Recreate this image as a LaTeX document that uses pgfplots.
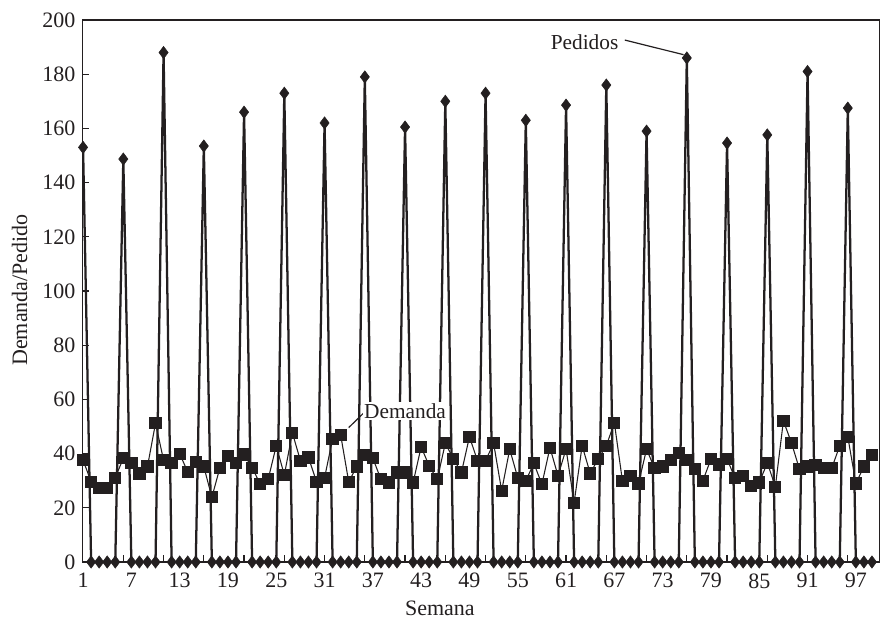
\documentclass[border=0pt]{standalone}
\usepackage{pgfplots}
\pgfplotsset{compat=1.18}
\usepackage{fontspec}
\setmainfont{Liberation Serif}
\definecolor{ink}{RGB}{35,31,32}
\begin{document}
\begin{tikzpicture}
\fontsize{16}{19}\selectfont
\begin{axis}[
  scale only axis,
  width=598pt, height=406.5pt,
  xmin=0.95, xmax=100, ymin=0, ymax=200,
  clip=false,
  axis line style={ink, line width=0.9pt},
  tick align=inside,
  xtick pos=bottom, ytick pos=left,
  xtick={6,11,...,96}, xticklabels={},
  extra x ticks={1,7,13,19,25,31,37,43,49,55,61,67,73,79,85,91,97},
  extra x tick style={major tick length=0pt},
  ytick={0,20,...,200},
  major tick length=5pt,
  tick style={ink, line width=0.9pt},
  /pgf/number format/assume math mode=true,
  ticklabel style={font=\fontsize{16.5}{19}\selectfont, text=ink},
  xticklabel style={yshift=-3pt},
  label style={font=\fontsize{16.5}{19}\selectfont, text=ink},
  xlabel={Semana}, ylabel={Demanda/Pedido},
  xlabel style={at={(axis description cs:0.448,-0.085)}, anchor=center},
  ylabel style={at={(axis description cs:-0.079,0.502)}, anchor=center},
]
\addplot[ink, line width=1.7pt, mark=diamond*, mark size=4.6pt, mark options={solid, fill=ink, line width=0.4pt}] table {
x y
1 153
2 0
3 0
4 0
5 0
6 148.7
7 0
8 0
9 0
10 0
11 188
12 0
13 0
14 0
15 0
16 153.5
17 0
18 0
19 0
20 0
21 166
22 0
23 0
24 0
25 0
26 173
27 0
28 0
29 0
30 0
31 162
32 0
33 0
34 0
35 0
36 179
37 0
38 0
39 0
40 0
41 160.5
42 0
43 0
44 0
45 0
46 170
47 0
48 0
49 0
50 0
51 173
52 0
53 0
54 0
55 0
56 163
57 0
58 0
59 0
60 0
61 168.6
62 0
63 0
64 0
65 0
66 176
67 0
68 0
69 0
70 0
71 159
72 0
73 0
74 0
75 0
76 186
77 0
78 0
79 0
80 0
81 154.6
82 0
83 0
84 0
85 0
86 157.6
87 0
88 0
89 0
90 0
91 181
92 0
93 0
94 0
95 0
96 167.5
97 0
98 0
99 0
};
\addplot[ink, line width=0.8pt, mark=square*, mark size=4.2pt, mark options={solid, fill=ink}] table {
x y
1 37.6
2 29.6
3 27.2
4 27.2
5 31.1
6 38.3
7 36.4
8 32.7
9 35.2
10 51.2
11 37.6
12 36.4
13 39.9
14 33.3
15 37
16 35.2
17 23.9
18 34.8
19 39.1
20 36.6
21 39.7
22 34.8
23 28.8
24 30.6
25 42.9
26 32.1
27 47.7
28 37.4
29 38.6
30 29.6
31 31.1
32 45.4
33 46.9
34 29.6
35 35.2
36 39.5
37 38.3
38 30.5
39 29.3
40 33
41 33
42 29.3
43 42.5
44 35.4
45 30.5
46 43.8
47 38.1
48 33
49 46.2
50 37.4
51 37.4
52 43.8
53 26.3
54 41.6
55 31.1
56 30
57 36.4
58 28.7
59 42.2
60 31.8
61 41.7
62 21.9
63 42.9
64 32.7
65 38.1
66 42.9
67 51.4
68 30
69 31.8
70 29
71 41.6
72 34.6
73 35.2
74 37.6
75 40.3
76 37.6
77 34.3
78 30
79 38
80 36
81 38
82 30.9
83 31.7
84 28
85 29.3
86 36.6
87 27.8
88 52.1
89 44
90 34.2
91 35.2
92 35.8
93 34.8
94 34.6
95 42.9
96 46.2
97 29
98 35.2
99 39.5
};
\draw[ink, line width=0.9pt] (axis cs:68.3,192.6) -- (axis cs:75.6,187.2);
\node[text=ink, fill=white, inner sep=1pt] at (axis cs:63.3,191.9) {Pedidos};
\draw[ink, line width=0.9pt] (axis cs:36.0,55.4) -- (axis cs:34.0,49.6);
\node[text=ink, fill=white, inner sep=1pt] at (axis cs:41.0,55.7) {Demanda};
\end{axis}
\pgfresetboundingbox
\path (-62pt,-45pt) rectangle (598pt,421.5pt);
\end{tikzpicture}
\end{document}
